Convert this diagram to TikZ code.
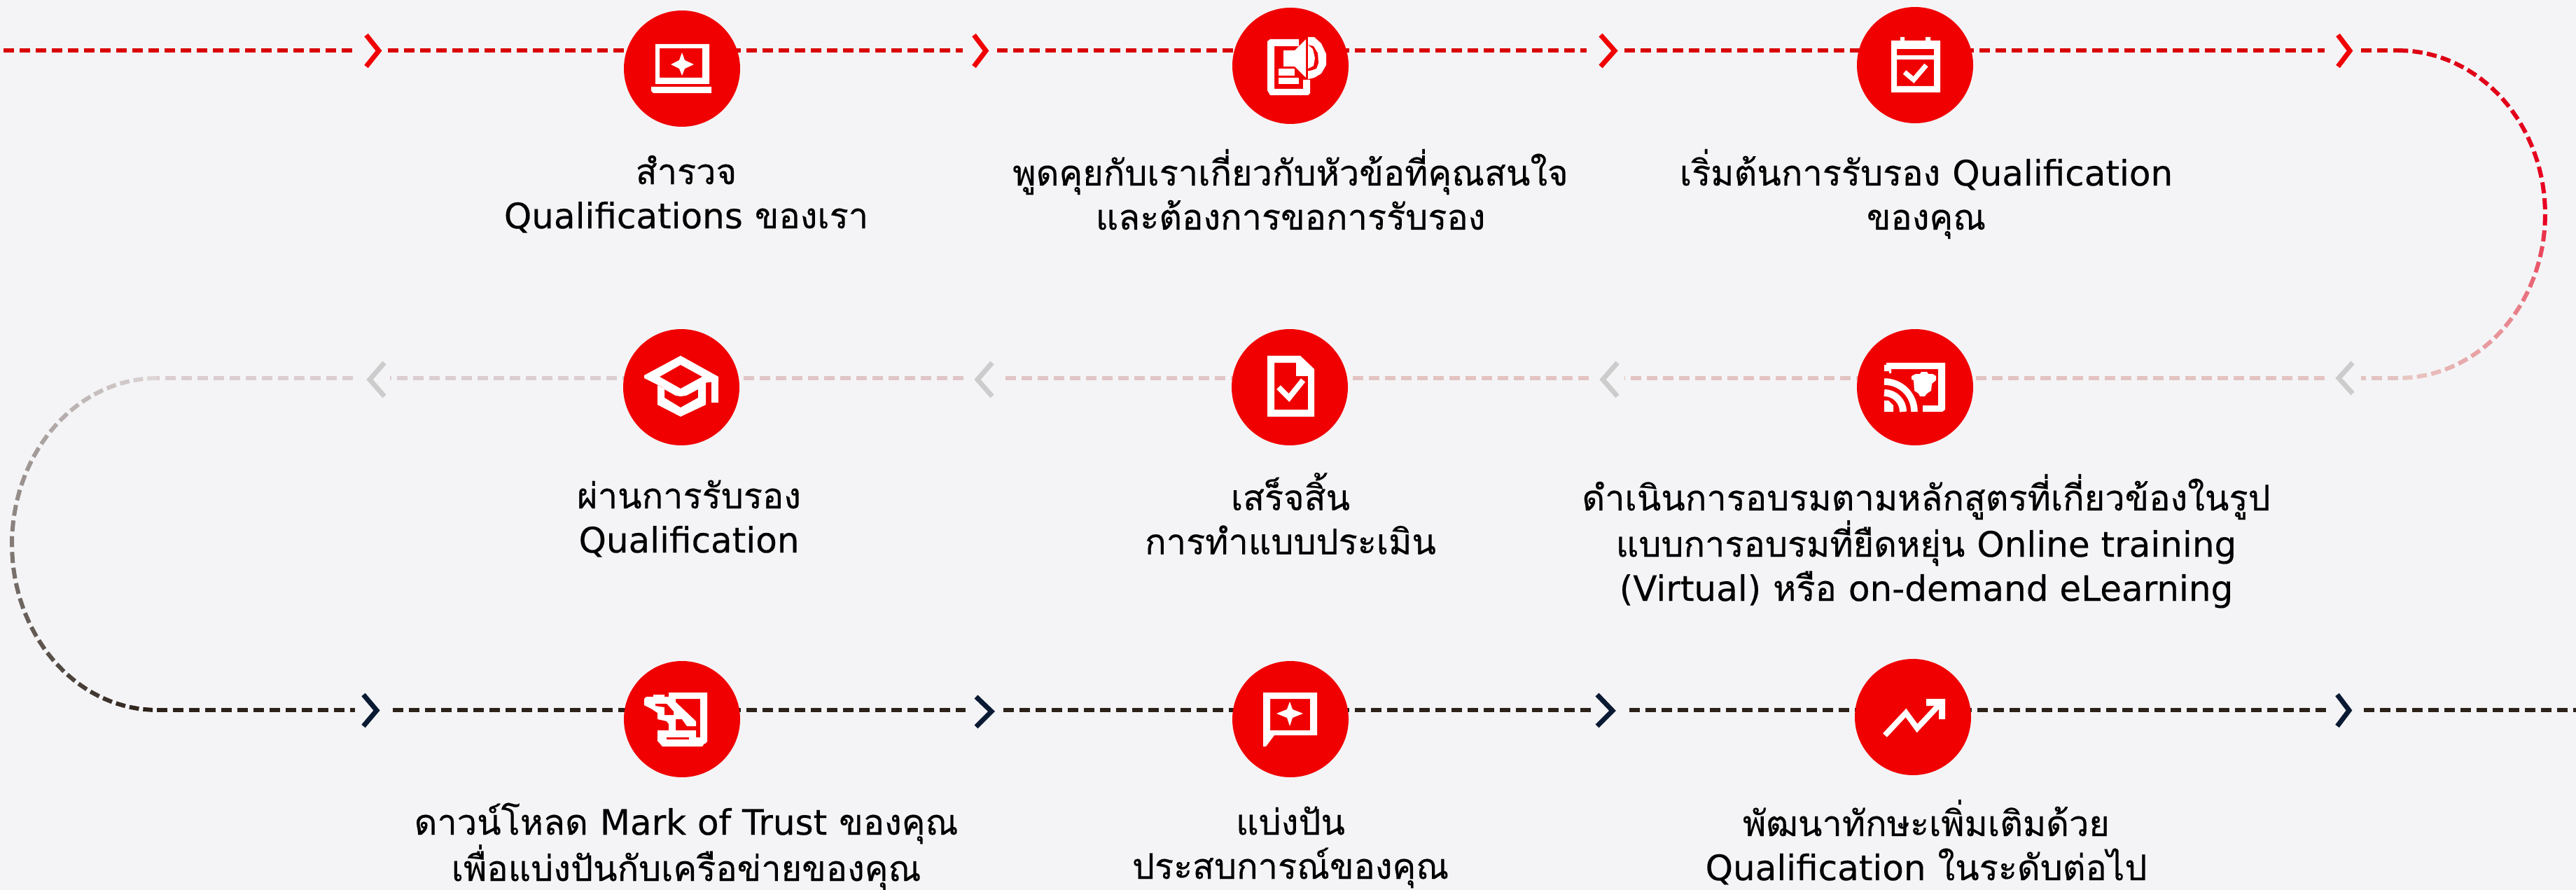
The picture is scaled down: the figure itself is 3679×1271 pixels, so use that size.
\documentclass[tikz,border=0pt]{standalone}
\usepackage{fontspec}
\usetikzlibrary{backgrounds,calc}
\newfontfamily\thaifont[Script=Thai,FakeBold=0.4]{Loma}
\newfontfamily\latf[FakeBold=0.3]{DejaVu Sans}
\newcommand{\lat}[1]{{\latf\fontsize{50}{63}\selectfont #1}}
\definecolor{pagebg}{HTML}{F4F4F6}
\definecolor{discred}{HTML}{F00000}
\definecolor{lineone}{HTML}{D90000}
\definecolor{linetwo}{HTML}{E3C3C1}
\definecolor{linetwoc}{HTML}{E0C5C7}
\definecolor{linetwob}{HTML}{DBCDD0}
\definecolor{linethree}{HTML}{2C221A}
\definecolor{chevgrey}{HTML}{CCCCCC}
\definecolor{chevnavy}{HTML}{0B1A33}
\definecolor{arcA}{HTML}{DC0012}
\definecolor{arcB}{HTML}{E90022}
\definecolor{arcC}{HTML}{E8C6C2}
\definecolor{arcD}{HTML}{DDD6D6}
\tikzset{
  disc/.style={circle,fill=discred,minimum size=166pt,inner sep=0pt,outer sep=0pt},
  dashline/.style={line width=6pt,dash pattern=on 15pt off 8pt},
  chev/.style={line width=7pt,line join=miter,miter limit=2},
  label/.style={anchor=north,align=center,inner sep=0pt,outer sep=0pt,text=black,
    font=\thaifont\fontsize{50.5}{63}\selectfont},
  ico/.style={fill=white,draw=none},
  icohole/.style={fill=discred,draw=none},
}
\newcommand{\fs}{\rule{0pt}{50pt}}
\begin{document}
\begin{tikzpicture}[x=1pt,y=-1pt]
\useasboundingbox (0,0) rectangle (3679,1271);
% discs
\node[disc] (c1) at (974,98) {};
\node[disc] (c2) at (1843,94) {};
\node[disc] (c3) at (2735,93) {};
\node[disc] (c4) at (2735,553) {};
\node[disc] (c5) at (1842,553) {};
\node[disc] (c6) at (973,553) {};
\node[disc] (c7) at (974,1027) {};
\node[disc] (c8) at (1843,1027) {};
\node[disc] (c9) at (2732,1024) {};
% free ends of the dashes
\coordinate (a0) at (5,72);   \coordinate (a1) at (505,72);  \coordinate (a2) at (554,72);
\coordinate (a3) at (1375,72);\coordinate (a4) at (1424,72);
\coordinate (a5) at (2266,72);\coordinate (a6) at (2320,72);
\coordinate (a7) at (3320,72);\coordinate (a8) at (3372,72);  \coordinate (a9) at (3425,72);
\coordinate (b0) at (3425,540);\coordinate (b1) at (3372,540);\coordinate (b2) at (3320,540);
\coordinate (b3) at (2320,540);\coordinate (b4) at (2269,540);
\coordinate (b5) at (1428,540);\coordinate (b6) at (1376,540);
\coordinate (b7) at (557,540); \coordinate (b8) at (504,540);  \coordinate (b9) at (224,540);
\coordinate (d0) at (224,1014);\coordinate (d1) at (507,1014);\coordinate (d2) at (561,1014);
\coordinate (d3) at (1379,1014);\coordinate (d4) at (1433,1014);
\coordinate (d5) at (2272,1014);\coordinate (d6) at (2327,1014);
\coordinate (d7) at (3326,1014);\coordinate (d8) at (3376,1014);\coordinate (d9) at (3679,1014);
\begin{scope}[on background layer]
  \fill[pagebg] (0,0) rectangle (3679,1271);
  % row 1
  \draw[dashline,lineone] (a0) -- (a1);
  \draw[dashline,lineone] (a2) -- (a2 -| c1);
  \draw[dashline,lineone] (c1 |- a3) -- (a3);
  \draw[dashline,lineone] (a4) -- (a4 -| c2);
  \draw[dashline,lineone] (c2 |- a5) -- (a5);
  \draw[dashline,lineone] (a6) -- (a6 -| c3);
  \draw[dashline,lineone] (c3 |- a7) -- (a7);
  \draw[dashline,lineone] (a8) -- (a9);
  % row 2
  \draw[dashline,linetwo] (b0) -- (b1);
  \draw[dashline,linetwo] (b2) -- (b2 -| c4);
  \draw[dashline,linetwo] (c4 |- b3) -- (b3);
  \draw[dashline,linetwo] (b4) -- (b4 -| c5);
  \draw[dashline,linetwoc] (c5 |- b5) -- (b5);
  \draw[dashline,linetwoc] (b6) -- (b6 -| c6);
  \draw[dashline,linetwob] (c6 |- b7) -- (b7);
  \draw[dashline,linetwob] (b8) -- (b9);
  % row 3
  \draw[dashline,linethree] (d0) -- (d1);
  \draw[dashline,linethree] (d2) -- (d2 -| c7);
  \draw[dashline,linethree] (c7 |- d3) -- (d3);
  \draw[dashline,linethree] (d4) -- (d4 -| c8);
  \draw[dashline,linethree] (c8 |- d5) -- (d5);
  \draw[dashline,linethree] (d6) -- (d6 -| c9);
  \draw[dashline,linethree] (c9 |- d7) -- (d7);
  \draw[dashline,linethree] (d8) -- (d9);
  % right bend, fading
  \foreach \i in {0,...,31}{
    \pgfmathsetmacro\ta{\i*180/32}
    \pgfmathsetmacro\tb{\ta+3.9}
    \pgfmathtruncatemacro\mx{\i<16 ? 100-\i*100/16 : 100-100*sqrt(max((\i-16)/15,0))}
    \ifnum\i<16 \colorlet{cc}{arcA!\mx!arcB}\else\colorlet{cc}{arcB!\mx!arcC}\fi
    \draw[line width=6pt,cc] ($(3425,306)+({210*sin(\ta)},{-234*cos(\ta)})$) -- ($(3425,306)+({210*sin(\tb)},{-234*cos(\tb)})$);
  }
  % left bend, darkening
  \foreach \i in {0,...,32}{
    \pgfmathsetmacro\ta{\i*180/33}
    \pgfmathsetmacro\tb{\ta+3.8}
    \pgfmathtruncatemacro\mx{100-\i*100/32}
    \colorlet{cc}{arcD!\mx!linethree}
    \draw[line width=6pt,cc] ($(224,777)+({-207*sin(\ta)},{-237*cos(\ta)})$) -- ($(224,777)+({-207*sin(\tb)},{-237*cos(\tb)})$);
  }
\end{scope}
% chevrons, row 1
\draw[chev,discred] (523,50) -- (541,72.5) -- (523,95);
\draw[chev,discred] (1391,50) -- (1408,72.5) -- (1391,95);
\draw[chev,discred] (2286,50) -- (2306,72.5) -- (2286,95);
\draw[chev,discred] (3339,50) -- (3356,72.5) -- (3339,95);
% chevrons, row 2
\draw[chev,chevgrey] (549,518) -- (528,542) -- (549,566);
\draw[chev,chevgrey] (1417,518) -- (1396,542) -- (1417,566);
\draw[chev,chevgrey] (2310,518) -- (2289,542) -- (2310,566);
\draw[chev,chevgrey] (3360,518) -- (3340,540) -- (3360,562);
% chevrons, row 3
\draw[chev,chevnavy] (519,992) -- (538,1014.5) -- (519,1037);
\draw[chev,chevnavy] (1394,995) -- (1416,1016) -- (1394,1038);
\draw[chev,chevnavy] (2281,992) -- (2303,1015) -- (2281,1037);
\draw[chev,chevnavy] (3338,992) -- (3355,1014.5) -- (3338,1037);
% icon 1 laptop
\fill[ico,even odd rule] (936,63) rectangle (1013,120) (942,69) rectangle (1003,111);
\fill[ico] (930,124) -- (1016,124) -- (1016,133) -- (933,133) -- (930,130) -- cycle;
\fill[ico] (974,75) -- (978,86) -- (991,92) -- (978,98) -- (974,108) -- (970,98) -- (958,92) -- (970,86) -- cycle;
% icon 2 document and speaker
\begin{scope}[shift={(1790,40)}]
  \fill[ico,even odd rule] (20,19) -- (24,16) -- (65,16) -- (65,26) -- (30,26) -- (30,87) -- (71,87) -- (71,74) -- (81,74) -- (81,93) -- (78,96) -- (24,96) -- (20,89) -- cycle;
  \fill[ico] (78,13) -- (87,13) -- (97,22) -- (104,37) -- (104,53) -- (97,65) -- (87,71) -- (78,73) -- cycle;
  \fill[icohole] (78,24) -- (86,26) -- (92,36) -- (93,50) -- (90,58) -- (81,61) -- (78,61) -- cycle;
  \fill[ico] (78,24) -- (85,30) -- (88,43) -- (86,54) -- (78,58) -- cycle;
  \fill[ico] (43,32) -- (59,32) -- (75,16) -- (75,71) -- (59,55) -- (43,55) -- cycle;
  \fill[ico] (36,58) rectangle (59,68);
  \fill[ico] (36,71) rectangle (65,80);
\end{scope}
% icon 3 calendar
\fill[ico,even odd rule] (2701,58) -- (2714,58) -- (2714,53) -- (2720,53) -- (2720,58) -- (2750,58) -- (2750,53) -- (2757,53) -- (2757,58) -- (2771,58) -- (2771,132) -- (2701,132) -- cycle
  (2709,70) rectangle (2762,79) (2709,85) rectangle (2762,123);
\draw[white,line width=7pt] (2720,103) -- (2733,114) -- (2751,93);
% icon 4 screen, shield and signal
\begin{scope}[shift={(2680,500)}]
  \fill[ico] (14,18) -- (98,18) -- (98,85) -- (94,88) -- (66,88) -- (66,79) -- (88,79) -- (88,27) -- (21,27) -- (21,33) -- (18,33) -- (18,30) -- (11,30) -- (11,21) -- (14,21) -- cycle;
  \fill[ico] (50,37) -- (56,34) -- (62,34) -- (64,31) -- (72,31) -- (74,34) -- (80,34) -- (85,37) -- (85,43) -- (79,48) -- (78,58) -- (72,62) -- (69,66) -- (62,66) -- (60,62) -- (54,58) -- (53,43) -- (50,42) -- cycle;
  \fill[ico] (11,72) -- (17,72) -- (24,79) -- (24,88) -- (11,88) -- cycle;
  \draw[white,line width=10pt] (11,61) .. controls (26,61) and (38,73) .. (38,88);
  \draw[white,line width=9.5pt] (11,45) .. controls (35,45) and (54,64) .. (54,88);
\end{scope}
% icon 5 document with tick
\fill[ico,even odd rule] (1810,508) -- (1857,508) -- (1877,527) -- (1877,595) -- (1810,595) -- cycle
  (1820,518) -- (1851,518) -- (1851,537) -- (1868,537) -- (1868,585) -- (1820,585) -- cycle;
\draw[white,line width=8pt] (1826,553) -- (1841,568) -- (1861,543);
% icon 6 graduation cap
\begin{scope}[shift={(920,500)}]
  \fill[ico,even odd rule] (52,8) -- (106,38) -- (106,45) -- (90,46) -- (52,66) -- (0,40) -- (0,36) -- cycle
    (52,21) -- (83,38) -- (52,55) -- (22,38) -- cycle;
  \fill[ico] (96,39) rectangle (106,75);
  \fill[ico,even odd rule] (19,50) -- (52,65) -- (88,47) -- (88,78) -- (52,95) -- (19,78) -- cycle
    (29,56) -- (45,65) -- (52,66) -- (60,65) -- (77,56) -- (77,68) -- (52,82) -- (29,68) -- cycle;
\end{scope}
% icon 7 document with gavel
\begin{scope}[shift={(920,980)}]
  \fill[ico] (35,9) -- (90,9) -- (90,79) -- (87,82) -- (74,82) -- (74,73) -- (80,73) -- (80,18) -- (45,18) -- (45,25) -- (35,25) -- cycle;
  \fill[ico] (0,18) -- (3,15) -- (13,15) -- (13,12) -- (29,12) -- (29,15) -- (37,15) -- (74,50) -- (74,57) -- (61,57) -- (54,47) -- (45,47) -- (45,63) -- (74,63) -- (74,73) -- (87,73) -- (87,80) -- (83,86) -- (26,86) -- (19,78) -- (19,63) -- (35,63) -- (35,54) -- (32,50) -- (19,47) -- (19,38) -- (10,32) -- (0,27) -- cycle;
  \fill[icohole] (32,73) rectangle (64,76);
  \fill[icohole] (16,25) -- (32,25) -- (42,36) -- (42,41) -- (29,41) -- (29,30) -- (16,28) -- cycle;
\end{scope}
% icon 8 speech bubble
\fill[ico,even odd rule] (1804,989) -- (1881,989) -- (1881,1050) -- (1820,1050) -- (1808,1066) -- (1804,1066) -- cycle
  (1814,998) rectangle (1871,1043);
\fill[ico] (1842,1002) -- (1846,1013) -- (1861,1019) -- (1846,1025) -- (1842,1037) -- (1838,1025) -- (1823,1019) -- (1838,1013) -- cycle;
% icon 9 trend arrow
\draw[white,line width=8pt,line join=miter] (2692,1050) -- (2722,1018) -- (2738,1040) -- (2768,1008);
\fill[ico] (2751,998) -- (2778,998) -- (2778,1027) -- (2769,1027) -- (2769,1008) -- (2751,1008) -- cycle;
% labels
\node[label] (t1) at (980,213) {\fs สำรวจ\\\lat{Qualifications} ของเรา};
\node[label] (t2) at (1843,213) {\fs พูดคุยกับเราเกี่ยวกับหัวข้อที่คุณสนใจ\\และต้องการขอการรับรอง};
\node[label] (t3) at (2751,213) {\fs เริ่มต้นการรับรอง \lat{Qualification}\\ของคุณ};
\node[label] (t4) at (2751,677) {\fs ดำเนินการอบรมตามหลักสูตรที่เกี่ยวข้องในรูป\\แบบการอบรมที่ยืดหยุ่น \lat{Online training}\\\lat{(Virtual)} หรือ \lat{on-demand eLearning}};
\node[label] (t5) at (1843,675) {\fs เสร็จสิ้น\\การทำแบบประเมิน};
\node[label] (t6) at (984,676) {\fs ผ่านการรับรอง\\\lat{Qualification}};
\node[label] (t7) at (980,1142) {\fs ดาวน์โหลด \lat{Mark of Trust} ของคุณ\\เพื่อแบ่งปันกับเครือข่ายของคุณ};
\node[label] (t8) at (1843,1142) {\fs แบ่งปัน\\ประสบการณ์ของคุณ};
\node[label] (t9) at (2751,1142) {\fs พัฒนาทักษะเพิ่มเติมด้วย\\\lat{Qualification} ในระดับต่อไป};
\end{tikzpicture}
\end{document}
